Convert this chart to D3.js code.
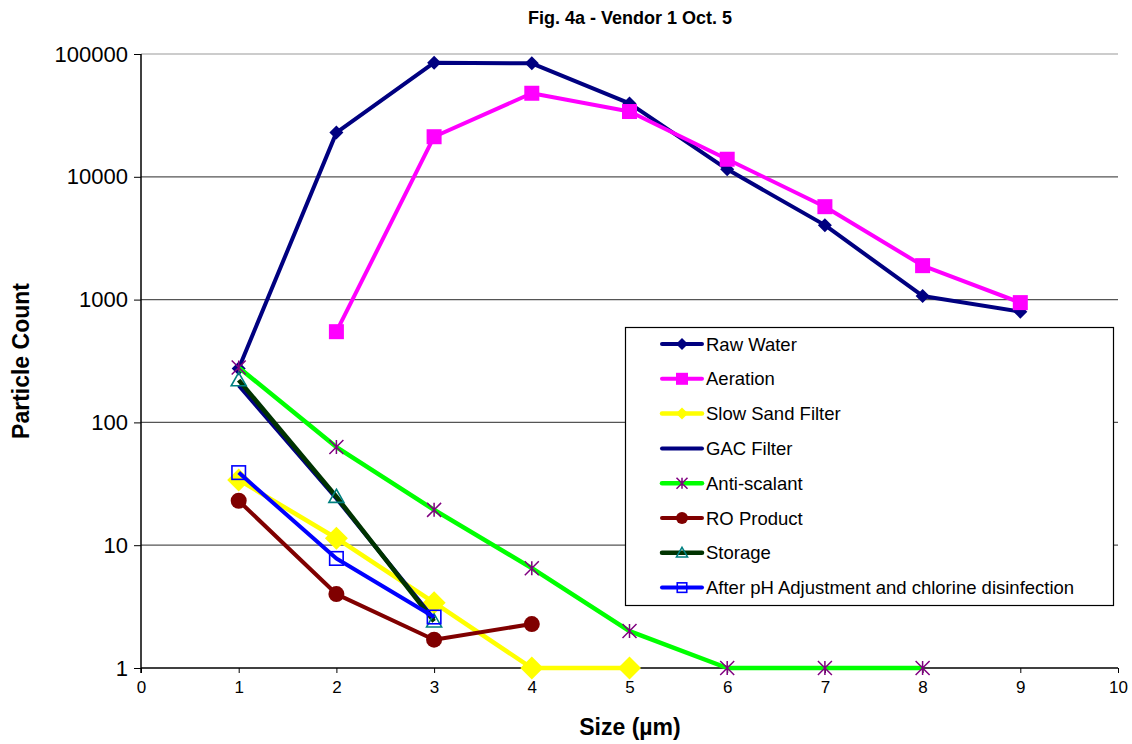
<!DOCTYPE html>
<html><head><meta charset="utf-8">
<script src="https://cdn.jsdelivr.net/npm/d3@7"></script>
<style>body{margin:0;background:#fff}svg{display:block}text{font-family:"Liberation Sans",Arial,sans-serif}</style>
</head><body><svg id="c" width="1132" height="744"></svg>
<script>
const sizes = [1,2,3,4,5,6,7,8,9];
const rawWater   = [275, 22900, 84900, 84000, 39600, 11500, 4040, 1070, 798];
const aeration   = [null, 548, 21200, 47900, 34000, 13900, 5710, 1890, 945];
const slowSand   = [34, 11.4, 3.4, 1, 1];
const gacFilter  = [200, 24, 2.5];
const antiScalant= [280, 63, 19.4, 6.5, 2.0, 1, 1, 1];
const roProduct  = [23, 4.0, 1.7, 2.28];
const storage    = [221, 24.8, 2.4];
const phAdjust   = [39, 7.8, 2.6];
const xTicks = [0,1,2,3,4,5,6,7,8,9,10];
const yTicks = [1,10,100,1000,10000,100000];
const yTickLabels = ["1","10","100","1000","10000","100000"];

const series = [
  {name:"Raw Water", vals:rawWater, color:"#000080", marker:"diamond", ms:14, mfill:"#000080", mstroke:"#000080", w:4},
  {name:"Aeration", vals:aeration, color:"#FF00FF", marker:"square", ms:15, mfill:"#FF00FF", mstroke:"#FF00FF", w:4},
  {name:"Slow Sand Filter", vals:slowSand, color:"#FFFF00", marker:"diamond", ms:23, mfill:"#FFFF00", mstroke:"#FFFF00", w:4.5},
  {name:"GAC Filter", vals:gacFilter, color:"#000080", marker:"none", w:4},
  {name:"Anti-scalant", vals:antiScalant, color:"#00FF00", marker:"star", ms:14, mfill:"none", mstroke:"#800080", w:4.5},
  {name:"RO Product", vals:roProduct, color:"#800000", marker:"circle", ms:16, mfill:"#800000", mstroke:"#800000", w:4},
  {name:"Storage", vals:storage, color:"#003300", marker:"triangle", ms:15, mfill:"none", mstroke:"#008080", w:4.5},
  {name:"After pH Adjustment and chlorine disinfection", vals:phAdjust, color:"#0000FF", marker:"hsquare", ms:15, mfill:"none", mstroke:"#0000FF", w:4}
];

const svg = d3.select("#c");
const L=141, R=1118, T=54, B=668;
const x = d3.scaleLinear().domain([0,10]).range([L,R]);
const y = d3.scaleLog().domain([1,100000]).range([B,T]);

// gridlines
svg.append("g").selectAll("line").data(yTicks.slice(1)).join("line")
  .attr("x1",L).attr("x2",R).attr("y1",d=>y(d)).attr("y2",d=>y(d))
  .attr("stroke",d=>d===100000?"#999":"#555").attr("stroke-width",1.2);

// axes
const yAxis = d3.axisLeft(y).tickValues(yTicks).tickFormat((d,i)=>yTickLabels[i]).tickSize(7).tickPadding(6);
const gy = svg.append("g").attr("transform",`translate(${L},0)`).call(yAxis);
gy.select(".domain").attr("stroke","#000").attr("stroke-width",1.5).attr("d",`M0,${T}V${B+5}`);
gy.selectAll(".tick line").attr("stroke","#000");
gy.selectAll(".tick text").attr("font-size",22).attr("fill","#000").attr("font-family","Liberation Sans, Arial, sans-serif");

const xAxis = d3.axisBottom(x).tickValues(xTicks).tickSize(5).tickPadding(8);
const gx = svg.append("g").attr("transform",`translate(0,${B})`).call(xAxis);
gx.select(".domain").attr("stroke","#000").attr("stroke-width",1.5).attr("d",`M${L},0H${R}`);
gx.selectAll(".tick line").attr("stroke","#000");
gx.selectAll(".tick text").attr("font-size",17).attr("fill","#000").attr("font-family","Liberation Sans, Arial, sans-serif");

function drawMarker(g, m, cx, cy) {
  const s = m.ms, h = s/2;
  if (m.marker==="diamond") g.append("path").attr("d",`M${cx},${cy-h}L${cx+h},${cy}L${cx},${cy+h}L${cx-h},${cy}Z`).attr("fill",m.mfill);
  else if (m.marker==="square") g.append("rect").attr("x",cx-h).attr("y",cy-h).attr("width",s).attr("height",s).attr("fill",m.mfill);
  else if (m.marker==="circle") g.append("circle").attr("cx",cx).attr("cy",cy).attr("r",h).attr("fill",m.mfill);
  else if (m.marker==="hsquare") g.append("rect").attr("x",cx-h+0.75).attr("y",cy-h+0.75).attr("width",s-1.5).attr("height",s-1.5).attr("fill","none").attr("stroke",m.mstroke).attr("stroke-width",1.6);
  else if (m.marker==="triangle") g.append("path").attr("d",`M${cx},${cy-h}L${cx+h},${cy+h*0.75}L${cx-h},${cy+h*0.75}Z`).attr("fill","none").attr("stroke",m.mstroke).attr("stroke-width",1.6);
  else if (m.marker==="star") g.append("path").attr("d",`M${cx-h},${cy-h}L${cx+h},${cy+h}M${cx+h},${cy-h}L${cx-h},${cy+h}M${cx},${cy-h}L${cx},${cy+h}`).attr("stroke",m.mstroke).attr("stroke-width",1.5);
}

const line = d3.line().defined(d=>d.v!=null).x(d=>x(d.s)).y(d=>y(d.v));
series.forEach(sr=>{
  const pts = sr.vals.map((v,i)=>({s:sizes[i], v:v}));
  const g = svg.append("g");
  g.append("path").attr("d",line(pts)).attr("fill","none").attr("stroke",sr.color).attr("stroke-width",sr.w).attr("stroke-linejoin","round");
  if (sr.marker!=="none") pts.filter(p=>p.v!=null).forEach(p=>drawMarker(g, sr, x(p.s), y(p.v)));
});

// legend
const lg = svg.append("g");
lg.append("rect").attr("x",625.5).attr("y",327.5).attr("width",488).attr("height",278).attr("fill","#fff").attr("stroke","#000").attr("stroke-width",1.2);
series.forEach((sr,i)=>{
  const cy = 344 + i*34.8;
  lg.append("line").attr("x1",662).attr("x2",702).attr("y1",cy).attr("y2",cy).attr("stroke",sr.color).attr("stroke-width",sr.w).attr("stroke-linecap","round");
  if (sr.marker!=="none") {
    const m = Object.assign({}, sr, {ms: sr.marker==="diamond"?12: sr.marker==="square"?12: sr.marker==="circle"?12: 11});
    drawMarker(lg, m, 682, cy);
  }
  lg.append("text").attr("x",706).attr("y",cy+6.5).attr("font-size",18.5).attr("fill","#000").text(sr.name);
});

// titles
svg.append("text").attr("x",630).attr("y",24).attr("text-anchor","middle").attr("font-size",18).attr("font-weight","bold").text("Fig. 4a - Vendor 1 Oct. 5");
svg.append("text").attr("x",630).attr("y",735).attr("text-anchor","middle").attr("font-size",23).attr("font-weight","bold").text("Size (µm)");
svg.append("text").attr("transform","translate(29,361) rotate(-90)").attr("text-anchor","middle").attr("font-size",23).attr("font-weight","bold").text("Particle Count");
</script></body></html>
